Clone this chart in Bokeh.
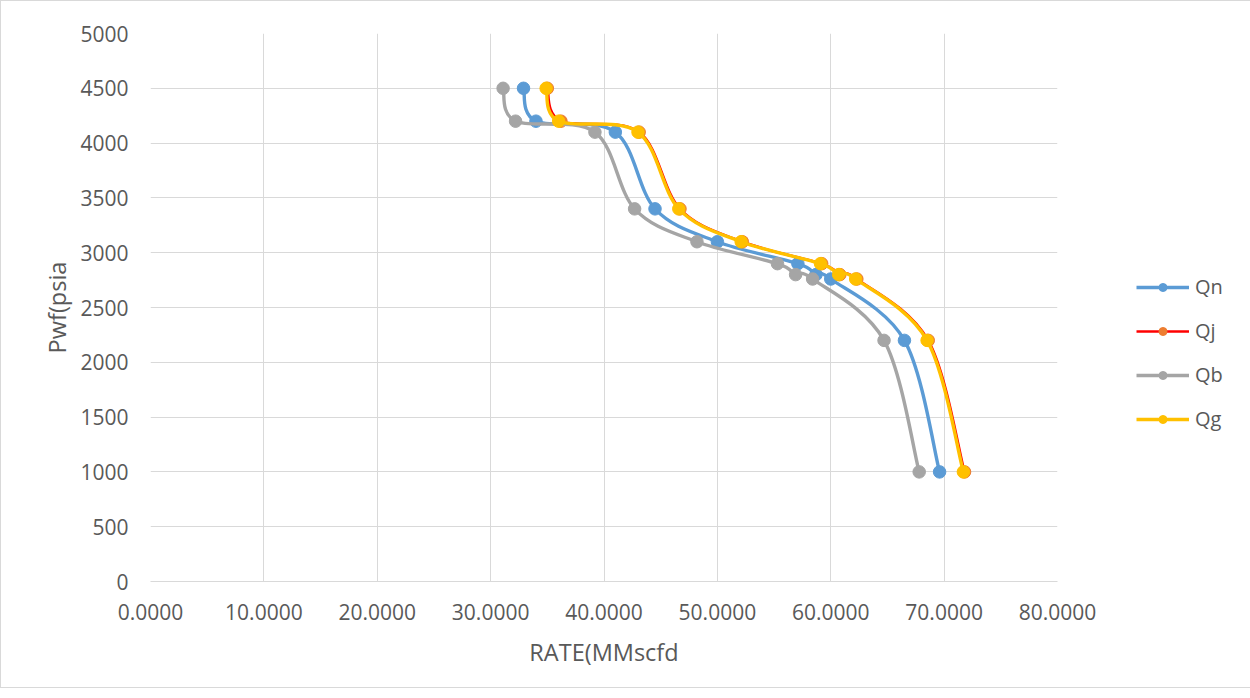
from bokeh.plotting import figure
from bokeh.models import (Range1d, SingleIntervalTicker, NumeralTickFormatter,
                          Legend, LegendItem, ColumnDataSource)
from bokeh.embed import file_html
from bokeh.resources import INLINE

# ---- data ----
pwf = [4500, 4200, 4100, 3400, 3100, 2900, 2800, 2760, 2200, 1000]
qn = [32.9, 34.0, 41.0, 44.5, 50.0, 57.1, 58.7, 60.0, 66.5, 69.6]
qj = [35.0, 36.2, 43.1, 46.7, 52.2, 59.2, 60.8, 62.3, 68.6, 71.8]
qb = [31.1, 32.2, 39.2, 42.7, 48.2, 55.3, 56.9, 58.4, 64.7, 67.8]
qg = [34.9, 36.0, 43.0, 46.6, 52.1, 59.1, 60.7, 62.2, 68.5, 71.7]

series_names = ["Qn", "Qj", "Qb", "Qg"]
series_values = [qn, qj, qb, qg]
line_colors = ["#5B9BD5", "#FF0000", "#A5A5A5", "#FFC000"]
marker_colors = ["#5B9BD5", "#ED7D31", "#A5A5A5", "#FFC000"]

FONT = "Open Sans"
TXT = "#595959"
GRID = "#d9d9d9"

p = figure(width=1240, height=688, output_backend="svg", toolbar_location=None,
           x_range=Range1d(0, 80), y_range=Range1d(0, 5000),
           frame_width=907, frame_height=548,
           min_border_left=149, min_border_top=32, min_border_right=182,
           min_border_bottom=106)
p.styles = {"border": "1px solid #d9d9d9"}
p.outline_line_color = None
p.background_fill_color = "white"
p.border_fill_color = "white"

p.xaxis.ticker = SingleIntervalTicker(interval=10)
p.yaxis.ticker = SingleIntervalTicker(interval=500)
p.xaxis.formatter = NumeralTickFormatter(format="0.0000")
p.yaxis.formatter = NumeralTickFormatter(format="0")
for ax in (p.xaxis, p.yaxis):
    ax.major_tick_line_color = None
    ax.minor_tick_line_color = None
    ax.major_label_text_font = FONT
    ax.major_label_text_font_size = "21px"
    ax.major_label_text_color = TXT
    ax.axis_label_text_font = FONT
    ax.axis_label_text_font_size = "23.5px"
    ax.axis_label_text_color = TXT
    ax.axis_label_text_font_style = "normal"
p.xaxis.axis_line_color = GRID
p.yaxis.axis_line_color = None
p.xaxis.major_label_standoff = 16
p.yaxis.major_label_standoff = 16
p.xaxis.axis_label = "RATE(MMscfd"
p.yaxis.axis_label = "Pwf(psia"
p.xaxis.axis_label_standoff = 13
p.yaxis.axis_label_standoff = 4
p.grid.grid_line_color = GRID
p.grid.grid_line_width = 1


def smooth_segments(xs, ys):
    n = len(xs)
    d = dict(x0=[], y0=[], x1=[], y1=[], cx0=[], cy0=[], cx1=[], cy1=[])
    for i in range(n - 1):
        im = max(i - 1, 0)
        ip2 = min(i + 2, n - 1)
        d["x0"].append(xs[i]); d["y0"].append(ys[i])
        d["x1"].append(xs[i + 1]); d["y1"].append(ys[i + 1])
        d["cx0"].append(xs[i] + (xs[i + 1] - xs[im]) / 6)
        d["cy0"].append(ys[i] + (ys[i + 1] - ys[im]) / 6)
        d["cx1"].append(xs[i + 1] - (xs[ip2] - xs[i]) / 6)
        d["cy1"].append(ys[i + 1] - (ys[ip2] - ys[i]) / 6)
    return d


items = []
for name, vals, lc, mc in zip(series_names, series_values, line_colors, marker_colors):
    lw = 2.6 if name == "Qj" else 3.4
    bz = p.bezier(x0="x0", y0="y0", x1="x1", y1="y1", cx0="cx0", cy0="cy0",
                  cx1="cx1", cy1="cy1",
                  source=ColumnDataSource(smooth_segments(vals, pwf)),
                  line_color=lc, line_width=lw)
    sc = p.scatter(vals, pwf, size=12.5, fill_color=mc, line_color=mc)
    items.append(LegendItem(label=name, renderers=[bz, sc]))

legend = Legend(items=items, location=(79, 149), orientation="vertical",
                glyph_width=53, glyph_height=20, label_height=20,
                label_standoff=6, spacing=17, padding=0, margin=0,
                label_text_font=FONT, label_text_font_size="20px",
                label_text_color=TXT, background_fill_alpha=0,
                border_line_color=None)
p.add_layout(legend, "right")

open("out.html", "w").write(file_html(p, INLINE))
